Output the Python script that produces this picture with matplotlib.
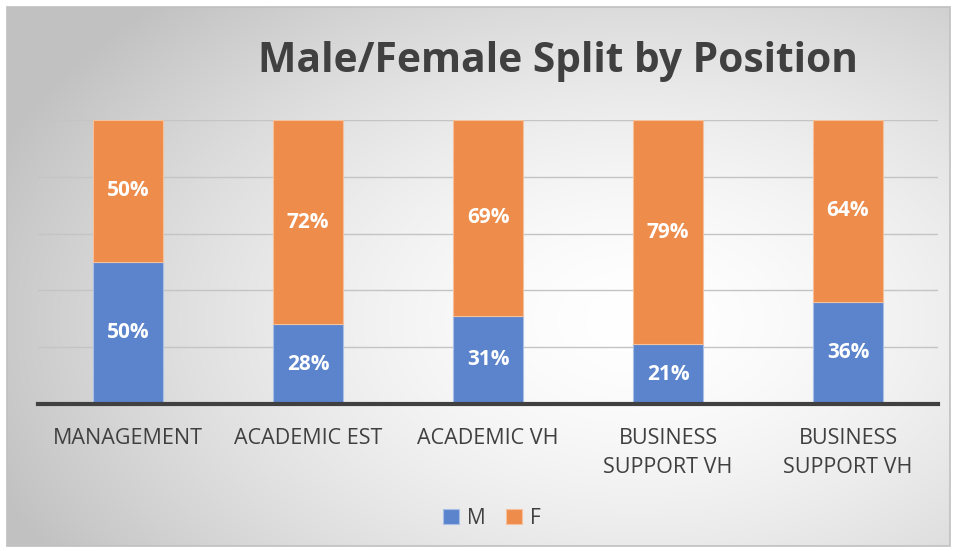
import numpy as np
import matplotlib.pyplot as plt
from matplotlib.patches import Rectangle

categories = ["MANAGEMENT", "ACADEMIC EST", "ACADEMIC VH", "BUSINESS\nSUPPORT VH", "BUSINESS\nSUPPORT VH"]
male = [50, 28, 31, 21, 36]
female = [50, 72, 69, 79, 64]

W, H = 956, 551
fig = plt.figure(figsize=(W / 100, H / 100), dpi=100)

# background gradient
bg = fig.add_axes([0, 0, 1, 1])
bg.set_xlim(0, W); bg.set_ylim(H, 0); bg.axis("off")
yy, xx = np.mgrid[0:H, 0:W]
cx, cy = 640, 320
d = np.sqrt(((xx - cx) / 700.0) ** 2 + ((yy - cy) / 450.0) ** 2)
val = 1.0 - 0.24 * np.clip(d, 0, 1) ** 1.6
img = np.dstack([val, val, val])
bg.imshow(img, extent=[7, 950, 546, 7], aspect="auto", zorder=0)
bg.add_patch(Rectangle((7, 7), 943, 539, fill=False, edgecolor="#c0c0c0", lw=1.2, zorder=1))

# main axes: x 38..938, y 120..404 px
ax = fig.add_axes([38 / W, 1 - 404 / H, 900 / W, 284 / H])
ax.patch.set_alpha(0)
x = np.arange(len(categories))
blue = "#5B84CC"
orange = "#EE8C4B"
bw = 0.39
ax.bar(x, male, bw, color=blue, edgecolor="#a9bfe6", linewidth=0.8, label="M", zorder=3)
ax.bar(x, female, bw, bottom=male, color=orange, edgecolor="#f5c09c", linewidth=0.8, label="F", zorder=3)

for i in range(len(categories)):
    ax.text(x[i], male[i] / 2, f"{male[i]}%", ha="center", va="center", color="white",
            fontsize=15, fontweight="bold", family="Open Sans", zorder=4)
    ax.text(x[i], male[i] + female[i] / 2, f"{female[i]}%", ha="center", va="center", color="white",
            fontsize=15, fontweight="bold", family="Open Sans", zorder=4)

ax.set_xlim(-0.5, 4.5)
ax.set_ylim(0, 100)
ax.set_yticks([20, 40, 60, 80, 100])
ax.yaxis.grid(True, color="#c4c4c4", lw=1.0, zorder=1)
ax.tick_params(axis="y", left=False, labelleft=False)
ax.tick_params(axis="x", bottom=False, pad=14)
ax.set_xticks(x)
ax.set_xticklabels(categories, fontsize=15.5, color="#404040", family="Open Sans", linespacing=1.45)
for s in ["top", "right", "left"]:
    ax.spines[s].set_visible(False)
ax.spines["bottom"].set_color("#404040")
ax.spines["bottom"].set_linewidth(3)
ax.spines["bottom"].set_zorder(5)

fig.text(558 / W, 1 - 61 / H, "Male/Female Split by Position", ha="center", va="center",
         fontsize=29.3, fontweight="bold", color="#404040", family="Open Sans")

leg = ax.legend(loc="center", bbox_to_anchor=(492 / W, 1 - 518 / H), bbox_transform=fig.transFigure,
                ncol=2, frameon=False, handlelength=0.75, handleheight=0.75,
                columnspacing=1.0, handletextpad=0.4, prop={"family": "Open Sans", "size": 15})
for t in leg.get_texts():
    t.set_color("#404040")

fig.savefig("out.png", dpi=100)
